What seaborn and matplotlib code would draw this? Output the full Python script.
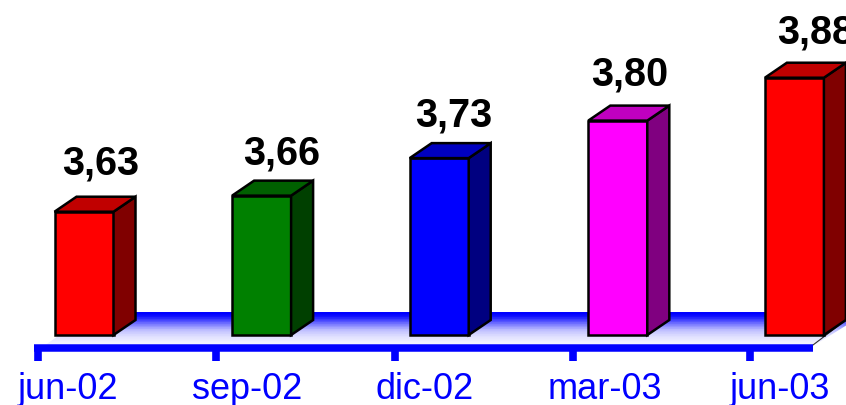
import numpy as np
import matplotlib
matplotlib.use("Agg")
import matplotlib.pyplot as plt
from matplotlib.colors import LinearSegmentedColormap
from matplotlib.patches import Polygon
import seaborn as sns

periods = ["jun-02", "sep-02", "dic-02", "mar-03", "jun-03"]
values = [3.63, 3.66, 3.73, 3.80, 3.88]
value_labels = ["3,63", "3,66", "3,73", "3,80", "3,88"]

front_colors = ["#ff0000", "#008000", "#0000ff", "#ff00ff", "#ff0000"]
top_colors = ["#c00000", "#006000", "#0000c0", "#c000c0", "#c00000"]
side_colors = ["#800000", "#004000", "#000080", "#800080", "#800000"]

# nudges and positions in pixels, the original is not regular
label_dx = [17, 20, 14, 13, 21]
label_dy = [48, 42, 43, 46, 45]
bar_nudge = [0, 0, 0, 1, 0]
tick_px = [38, 216, 395, 573, 750]
ticklabel_px = [68, 247.5, 425, 604.5, 779.5]

base = 3.4
px_x = 177.6   # pixels per category
px_y = 536.0   # pixels per unit of value
depth_x = 22 / px_x
depth_y = 15 / px_y


def dx(p):
    return (p - 84) / px_x


def dy(p):
    return base + (335 - p) / px_y


sns.set_style("white")
plt.rcParams["font.family"] = ["Liberation Sans", "DejaVu Sans"]

fig = plt.figure(figsize=(8.46, 4.05), dpi=100)
ax = fig.add_axes([0, 0, 1, 1])

sns.barplot(x=periods, y=values, hue=periods, palette=front_colors, legend=False,
            width=59 / px_x, saturation=1, edgecolor="black", linewidth=1.8,
            ax=ax, zorder=3)

ax.set_xlim(dx(0), dx(846))
ax.set_ylim(dy(405), dy(0))
ax.set_facecolor("white")

# floor
cmap = LinearSegmentedColormap.from_list(
    "floor",
    [(0, "#0000ff"), (0.1, "#1010ff"), (0.32, "#6e6eff"), (0.53, "#bebeff"), (0.74, "#e1e1ff"), (1, "#f5f5ff")],
    N=14)
floor = ax.imshow(np.linspace(0, 1, 14)[:, None], cmap=cmap, aspect="auto", zorder=1,
                  vmin=0, vmax=1, origin="upper",
                  extent=(dx(0), dx(870), dy(346), dy(312)))
floor_poly = Polygon([(dx(92), dy(312)), (dx(868), dy(312)), (dx(813), dy(346)), (dx(44), dy(346))],
                     transform=ax.transData, facecolor="none", edgecolor="none")
ax.add_patch(floor_poly)
floor.set_clip_path(floor_poly)
ax.set_xlim(dx(0), dx(846))
ax.set_ylim(dy(405), dy(0))
ax.plot([dx(813), dx(838)], [dy(345), dy(326)], color="#303030", lw=0.8, zorder=2)

# 3d sides and tops, built from the bars seaborn drew
bars = ax.patches[:len(values)]
for i, bar in enumerate(bars):
    bar.set_x(bar.get_x() + bar_nudge[i] / px_x)
    left = bar.get_x()
    right = left + bar.get_width()
    bar.set_y(base)
    bar.set_height(values[i] - base)
    top = values[i]
    side = Polygon([(right, base), (right + depth_x, base + depth_y),
                    (right + depth_x, top + depth_y), (right, top)],
                   facecolor=side_colors[i], edgecolor="black", lw=1.8, zorder=3, joinstyle="miter")
    lid = Polygon([(left, top), (right, top), (right + depth_x, top + depth_y),
                   (left + depth_x, top + depth_y)],
                  facecolor=top_colors[i], edgecolor="black", lw=1.8, zorder=3, joinstyle="miter")
    ax.add_patch(side)
    ax.add_patch(lid)
    ax.text(i + label_dx[i] / px_x, top + label_dy[i] / px_y, value_labels[i],
            ha="center", va="center", fontsize=28.5, fontweight="bold", color="black", zorder=4)

# axis
sns.despine(ax=ax, left=True, top=True, right=True)
ax.spines["bottom"].set_position(("axes", 1 - 348 / 405))
ax.spines["bottom"].set_color("#0000ff")
ax.spines["bottom"].set_linewidth(5.4)
ax.spines["bottom"].set_bounds(dx(34), dx(813))
ax.spines["bottom"].set_capstyle("butt")

ax.set_yticks([])
ax.set_xticks([dx(p) for p in tick_px])
ax.set_xticklabels([])
ax.tick_params(axis="x", which="major", length=9, width=5.5, color="#0000ff", direction="out", bottom=True)
ax.set_xticks([dx(p) for p in ticklabel_px], minor=True)
ax.set_xticklabels(periods, minor=True, fontsize=26, color="#0000ff")
ax.tick_params(axis="x", which="minor", length=0, pad=17, bottom=True)
ax.set_xlabel("")
ax.set_ylabel("")

plt.savefig("out.png", dpi=100)
